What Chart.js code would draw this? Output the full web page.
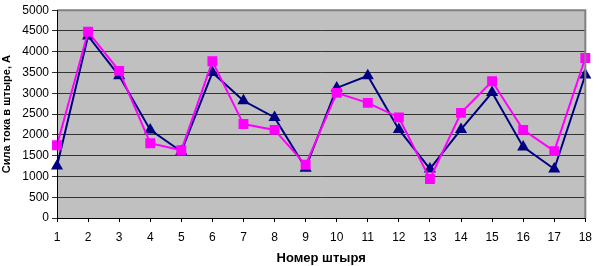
<!DOCTYPE html>
<html>
<head>
<meta charset="utf-8">
<script src="https://cdn.jsdelivr.net/npm/chart.js@4"></script>
<style>
    html, body { margin: 0; padding: 0; background: #ffffff; }
    #wrap { width: 600px; height: 266px; }
</style>
</head>
<body>
<div id="wrap"><canvas id="c" width="600" height="266"></canvas></div>
<script>
// pin numbers 1..18
const pins = ["1", "2", "3", "4", "5", "6", "7", "8", "9", "10", "11", "12", "13", "14", "15", "16", "17", "18"];
const navySeries = [1250, 4380, 3420, 2120, 1600, 3500, 2820, 2420, 1200, 3130, 3420, 2130, 1180, 2130, 3020, 1710, 1180, 3440];
const pinkSeries = [1750, 4480, 3540, 1800, 1630, 3770, 2260, 2120, 1280, 3010, 2770, 2420, 940, 2530, 3290, 2120, 1610, 3850];
const yMax = 5000;
const yStep = 500;

const plotFrame = {
    id: "plotFrame",
    beforeDraw: function (chart) {
        const a = chart.chartArea;
        const ctx = chart.ctx;
        ctx.save();
        ctx.fillStyle = "#c0c0c0";
        ctx.fillRect(a.left, a.top, a.right - a.left, a.bottom - a.top);
        ctx.restore();
    },
    afterDatasetsDraw: function (chart) {
        const a = chart.chartArea;
        const ctx = chart.ctx;
        ctx.save();
        ctx.strokeStyle = "#808080";
        ctx.lineWidth = 2;
        ctx.beginPath();
        ctx.moveTo(a.left, a.top);
        ctx.lineTo(a.right, a.top);
        ctx.lineTo(a.right, a.bottom);
        ctx.stroke();
        ctx.strokeStyle = "#000000";
        ctx.lineWidth = 1;
        ctx.beginPath();
        ctx.moveTo(a.left + 0.5, a.top);
        ctx.lineTo(a.left + 0.5, a.bottom + 0.5);
        ctx.lineTo(a.right, a.bottom + 0.5);
        ctx.stroke();
        ctx.restore();
    },
};

const fam = "'Liberation Sans', Arial, sans-serif";
const font = { family: fam, size: 12 };

new Chart(document.getElementById("c").getContext("2d"), {
    type: "line",
    data: {
        labels: pins,
        datasets: [
            {
                data: pinkSeries,
                borderColor: "#ff00ff",
                backgroundColor: "#ff00ff",
                borderWidth: 2,
                pointStyle: "rect",
                pointRadius: 7,
                pointBorderWidth: 0,
                tension: 0,
                order: 0,
            },
            {
                data: navySeries,
                borderColor: "#000080",
                backgroundColor: "#000080",
                borderWidth: 2,
                pointStyle: "triangle",
                pointRadius: 7,
                pointBorderWidth: 0,
                tension: 0,
                order: 1,
            },
        ],
    },
    options: {
        responsive: false,
        animation: false,
        layout: { padding: { left: 0, top: 4, right: 7, bottom: 0 } },
        plugins: { legend: { display: false }, tooltip: { enabled: false } },
        scales: {
            x: {
                offset: false,
                grid: { display: true, drawOnChartArea: false, drawTicks: true, tickLength: 4, color: "#000000" },
                border: { display: false },
                ticks: { color: "#000000", font: font, padding: 8, maxRotation: 0, autoSkip: false },
                title: {
                    display: true,
                    text: "Номер штыря",
                    color: "#000000",
                    font: { family: fam, size: 13, weight: "bold" },
                    padding: { top: 2, bottom: 0 },
                },
                afterFit: function (s) { s.height = 48; },
            },
            y: {
                min: 0,
                max: yMax,
                grid: { color: "#333333", lineWidth: 1, drawTicks: true, tickLength: 5 },
                border: { display: false },
                ticks: {
                    stepSize: yStep,
                    color: "#000000",
                    font: font,
                    padding: 3,
                    callback: function (v) { return String(v); },
                },
                title: {
                    display: true,
                    text: "Сила тока в штыре, А",
                    color: "#000000",
                    font: { family: fam, size: 11, weight: "bold" },
                    padding: { top: 0, bottom: 2 },
                },
                afterFit: function (s) { s.width = 57; },
            },
        },
    },
    plugins: [plotFrame],
});
</script>
</body>
</html>
